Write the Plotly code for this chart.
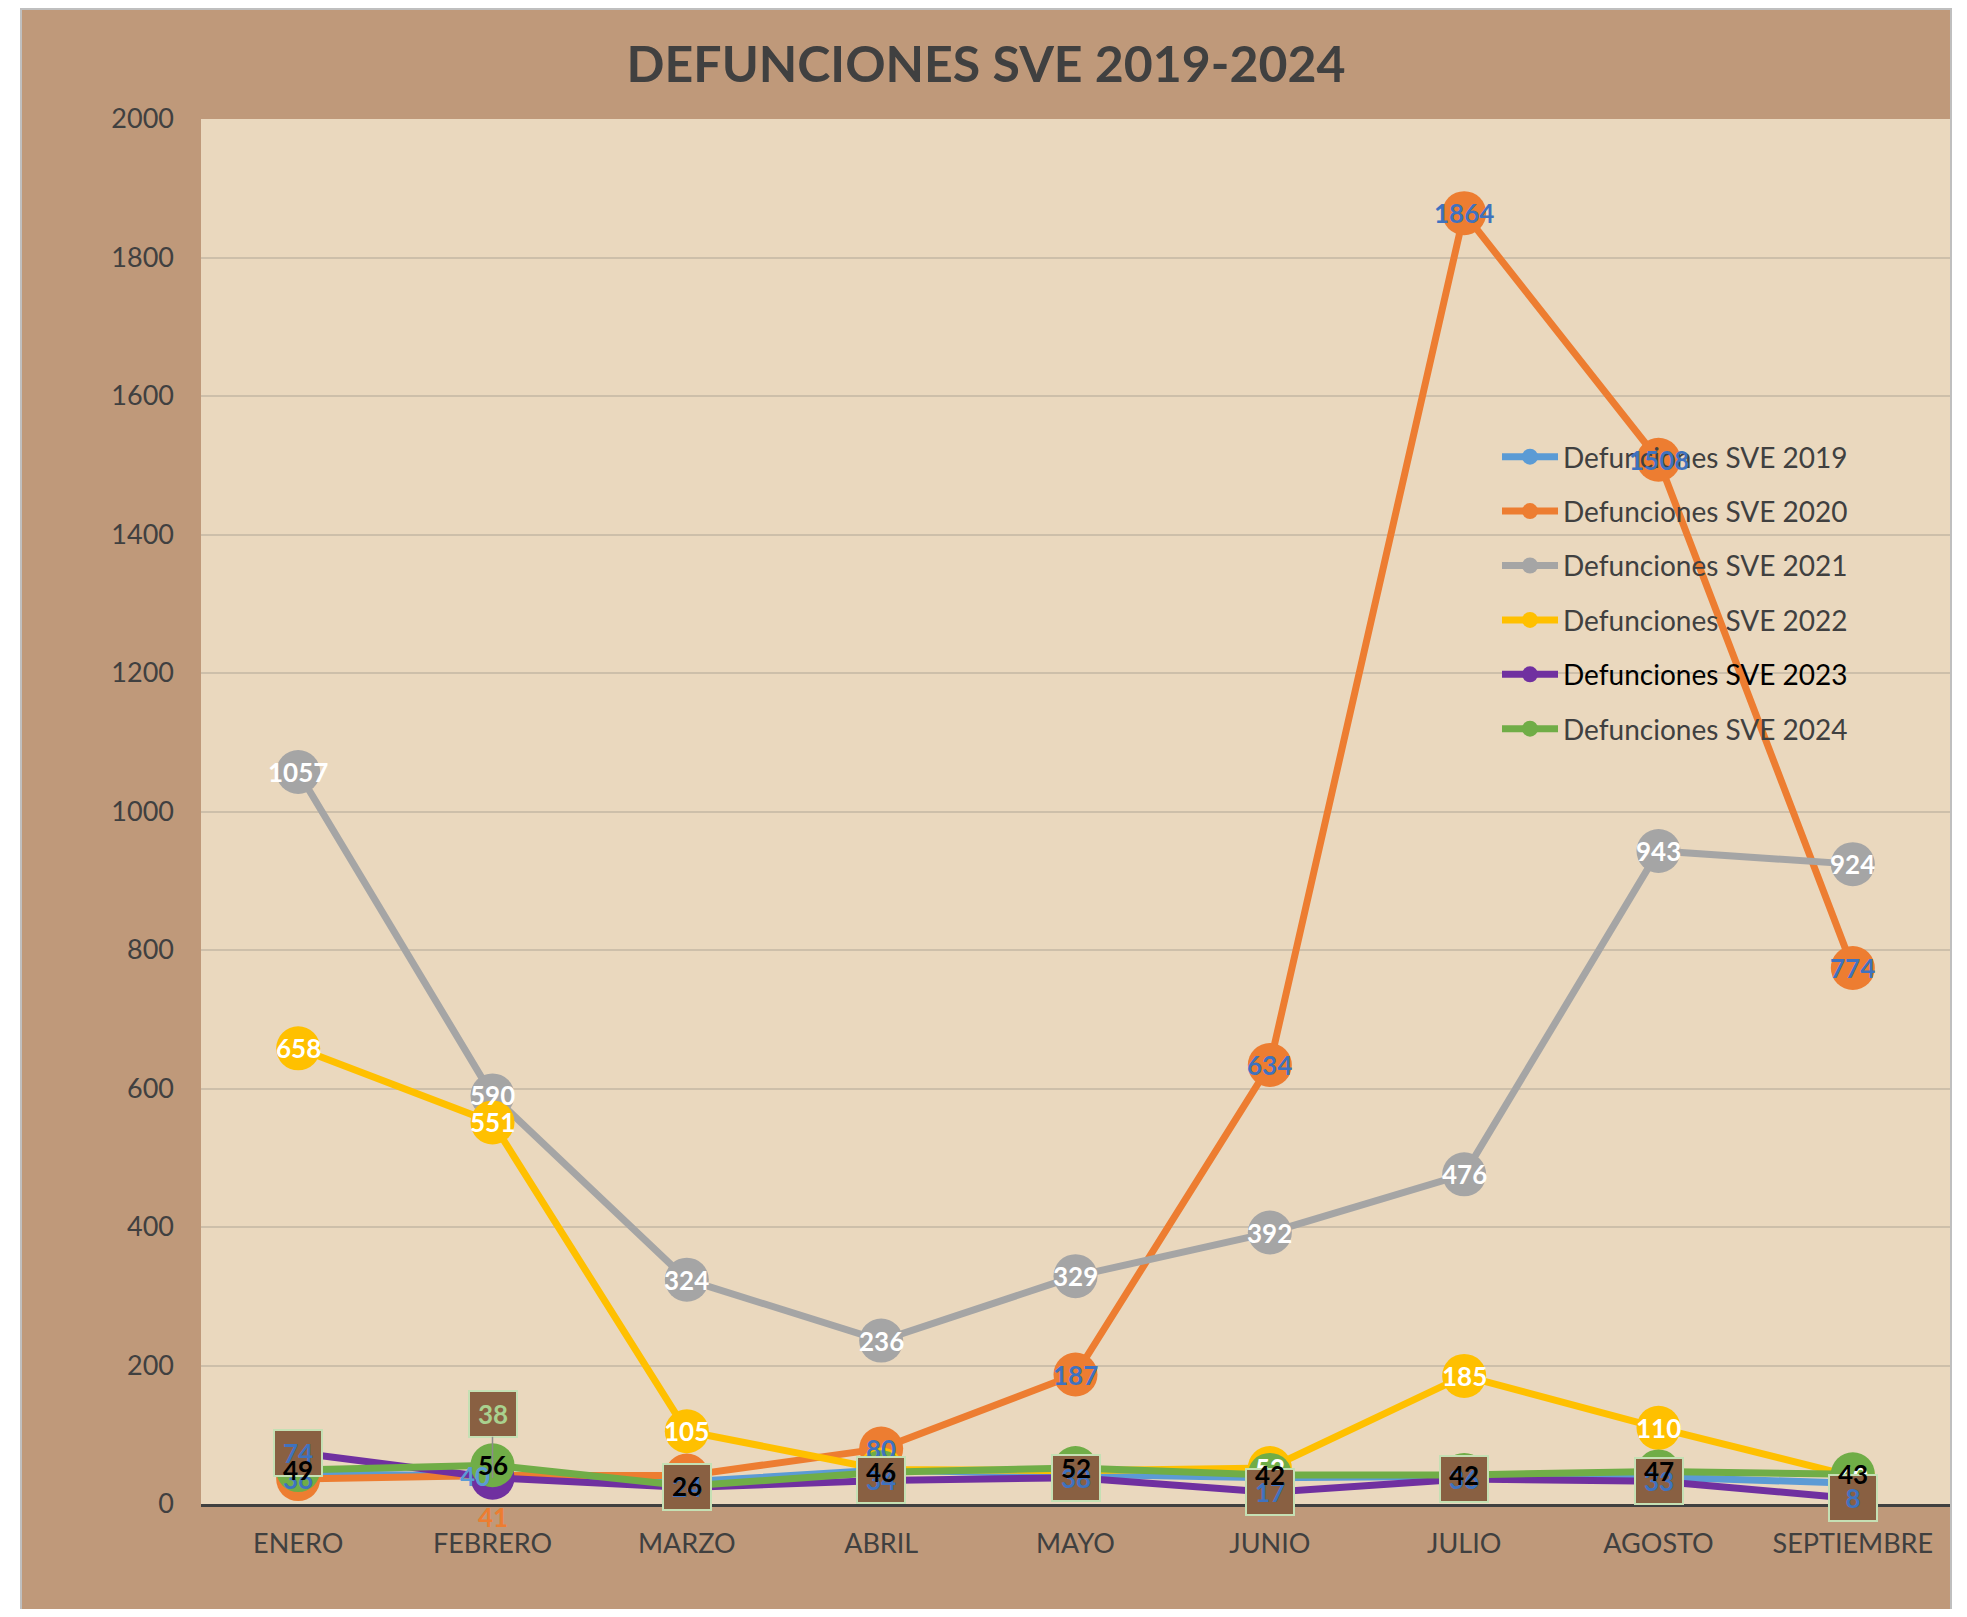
import plotly.graph_objects as go

# ---------------- data ----------------
months = ["ENERO", "FEBRERO", "MARZO", "ABRIL", "MAYO", "JUNIO", "JULIO", "AGOSTO", "SEPTIEMBRE"]
series_names = ["Defunciones SVE 2019", "Defunciones SVE 2020", "Defunciones SVE 2021",
                "Defunciones SVE 2022", "Defunciones SVE 2023", "Defunciones SVE 2024"]
d2019 = [44, 40, 32, 49, 43, 38, 40, 39, 30]
d2020 = [36, 41, 41, 80, 187, 634, 1864, 1508, 774]
d2021 = [1057, 590, 324, 236, 329, 392, 476, 943, 924]
d2022 = [658, 551, 105, 50, 48, 52, 185, 110, 40]
d2023 = [74, 38, 24, 34, 38, 17, 36, 33, 8]
d2024 = [49, 56, 26, 46, 52, 42, 42, 47, 43]
y_ticks = [0, 200, 400, 600, 800, 1000, 1200, 1400, 1600, 1800, 2000]

# ---------------- styles ----------------
colors = ["#5B9BD5", "#ED7D31", "#A5A5A5", "#FFC000", "#7030A0", "#70AD47"]
OUTER_BG = "#BF997A"
PLOT_BG = "#EAD8BE"
TEXT = "#404040"
BOX_BG = "#896042"
BOX_BORDER = "#C5E0B4"
BLUE_LBL = "#3F72BF"
FONT = "Lato"

OFF = 8                      # page body margin
W, H = 1951, 1601
PL, PT, PR, PB = 201, 119, 1950, 1504   # plot area in page pixels
L, T = PL - OFF, PT - OFF
R = W - (PR - OFF)
B = H - (PB - OFF)
plot_w = PR - PL
plot_h = PB - PT

fig = go.Figure()

all_series = [d2019, d2020, d2021, d2022, d2023, d2024]
for i, (name, vals) in enumerate(zip(series_names, all_series)):
    shown = name if i != 4 else "<span style='color:black'>" + name + "</span>"
    fig.add_trace(go.Scatter(
        x=months, y=vals, name=shown, mode="lines+markers",
        line=dict(color=colors[i], width=7),
        marker=dict(color=colors[i], size=44, line=dict(width=0)),
        legendgroup="g%d" % i, cliponaxis=False, hoverinfo="skip"))

annotations = []


def lbl(x, y, text, color, **kw):
    a = dict(x=x, y=y, xref="x", yref="y", text="<b>%s</b>" % text, showarrow=False,
             xanchor="center", yanchor="middle",
             font=dict(family=FONT, size=26, color=color))
    a.update(kw)
    annotations.append(a)


# 2019 labels (only the one not hidden by other labels)
show2019 = [False, True, False, False, False, False, False, False, False]
for m, v, s in zip(months, d2019, show2019):
    if s:
        lbl(m, v, v, colors[0], xshift=-18)

# 2020 labels
col2020 = [BLUE_LBL, colors[1]] + [BLUE_LBL] * 7
shift2020 = [0, -41] + [0] * 7
for m, v, c, s in zip(months, d2020, col2020, shift2020):
    lbl(m, v, v, c, yshift=s)

# 2021 and 2022 labels (white)
for m, v in zip(months, d2021):
    lbl(m, v, v, "white")
for m, v in zip(months, d2022):
    lbl(m, v, v, "white")

# 2023 labels in boxes
for j, (m, v) in enumerate(zip(months, d2023)):
    box = dict(bgcolor=BOX_BG, bordercolor=BOX_BORDER, borderwidth=2, width=44, height=42,
               valign="middle")
    if j == 1:
        lbl(m, v, v, "#A9D18E", showarrow=True, ax=0, ay=-64, arrowhead=0,
            arrowcolor="#8C8C8C", arrowwidth=1.5, standoff=0, **box)
    else:
        lbl(m, v, v, BLUE_LBL, **box)

# 2024 labels (black, on top)
for m, v in zip(months, d2024):
    lbl(m, v, v, "black")

shapes = [
    dict(type="rect", xref="paper", yref="paper",
         x0=(21 - PL) / plot_w, x1=(1951 - PL) / plot_w,
         y0=-0.12, y1=(PB - 9) / plot_h,
         fillcolor=OUTER_BG, line=dict(color="#BFBFBF", width=2), layer="below"),
    dict(type="rect", xref="paper", yref="paper", x0=0, x1=1, y0=0, y1=1,
         fillcolor=PLOT_BG, line=dict(width=0), layer="below"),
]

fig.update_layout(
    width=W, height=H,
    margin=dict(l=L, r=R, t=T, b=B, pad=0),
    paper_bgcolor="white", plot_bgcolor="rgba(0,0,0,0)",
    title=dict(text="<b>DEFUNCIONES SVE 2019-2024</b>", x=(986 - OFF) / W, xref="container",
               xanchor="center", y=1 - (64 - OFF) / H, yref="container", yanchor="middle",
               font=dict(family=FONT, size=50, color=TEXT)),
    xaxis=dict(type="category", range=[-0.5, 8.5], showgrid=False, showline=True,
               linecolor=TEXT, linewidth=3, ticks="", ticklabelstandoff=14,
               tickfont=dict(family=FONT, size=27, color=TEXT), fixedrange=True),
    yaxis=dict(range=[0, 2000], tickvals=y_ticks, showgrid=True, gridcolor="#CDBFAA",
               gridwidth=1.5, zeroline=False, showline=False, ticks="",
               ticklabelstandoff=26, tickfont=dict(family=FONT, size=27, color=TEXT),
               fixedrange=True),
    legend=dict(x=(1497 - PL) / plot_w, y=(PB - 432) / plot_h, xanchor="left", yanchor="top",
                bgcolor="rgba(0,0,0,0)", font=dict(family=FONT, size=28, color=TEXT),
                itemwidth=56, tracegroupgap=15, itemsizing="trace", traceorder="grouped"),
    shapes=shapes,
    annotations=annotations,
    showlegend=True,
)

fig.write_html("out.html")
